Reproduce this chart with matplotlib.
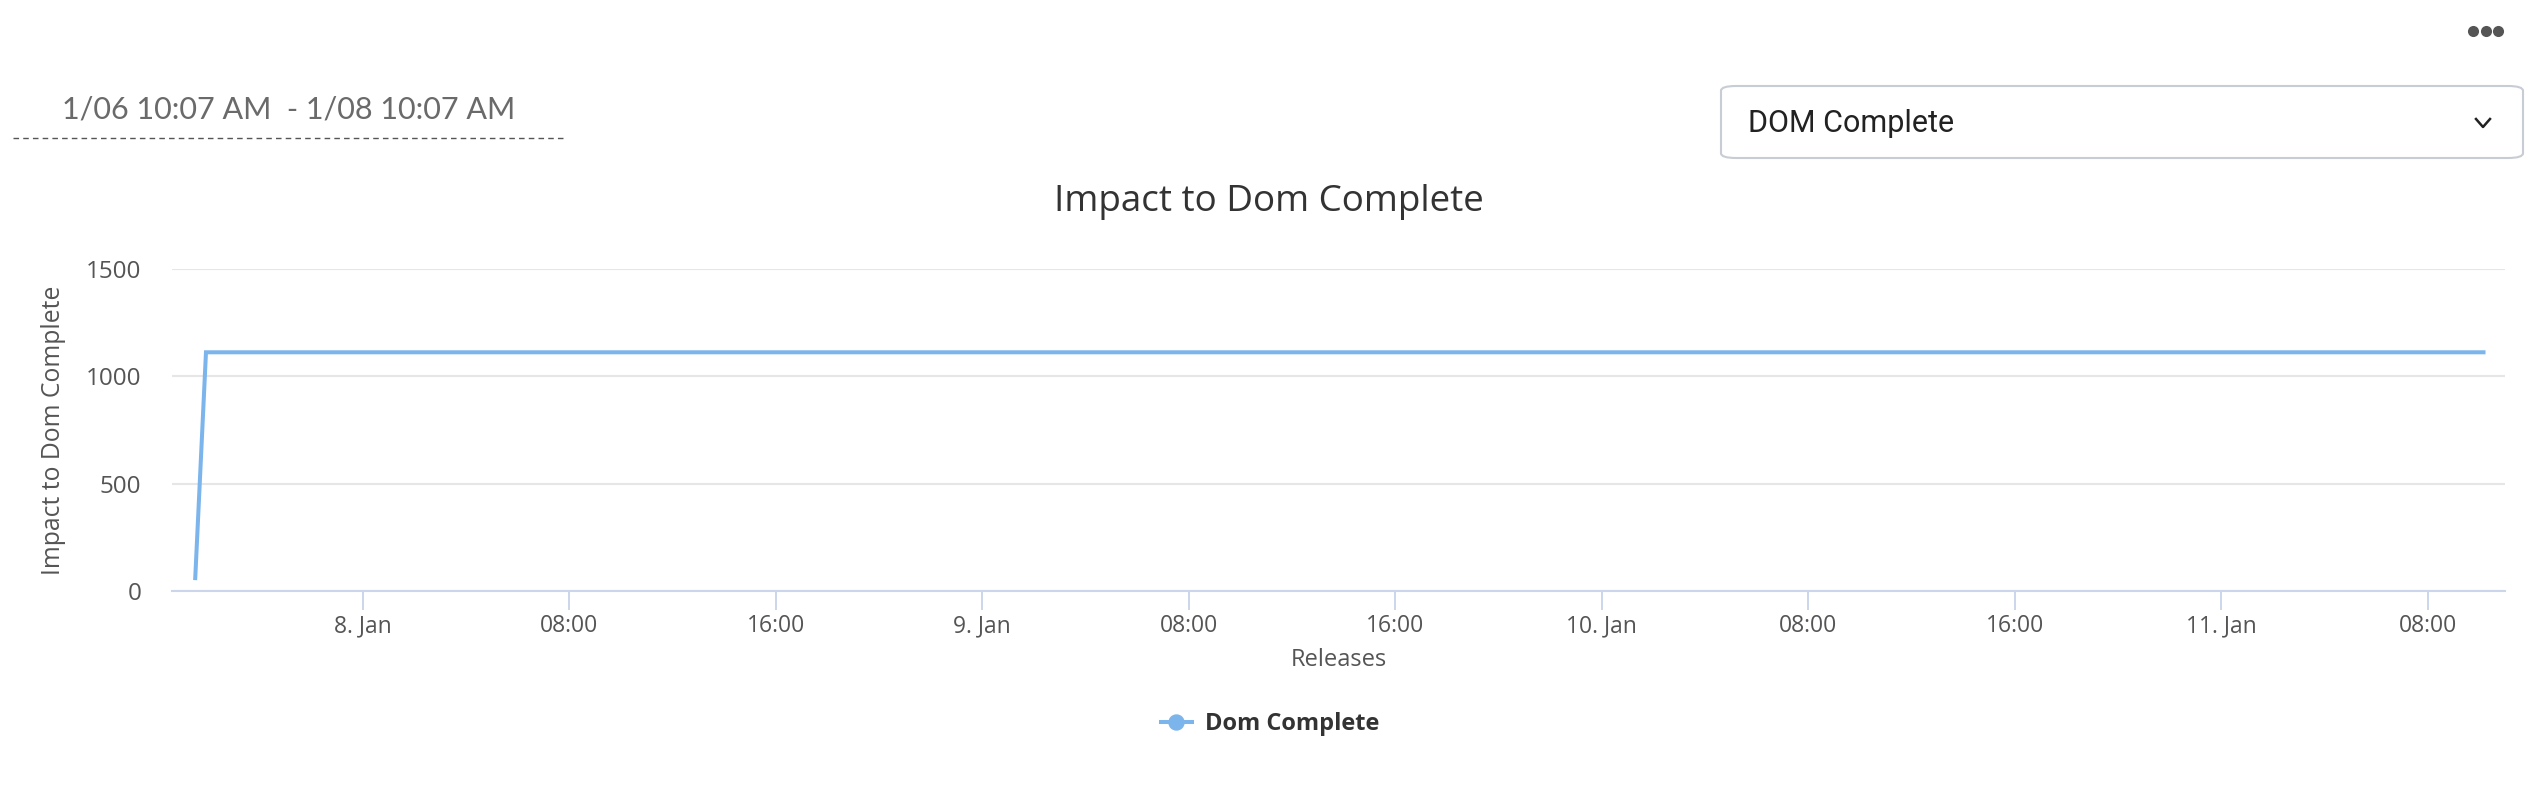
import numpy as np
import matplotlib
matplotlib.use("Agg")
import matplotlib.pyplot as plt
import matplotlib.dates as mdates
from matplotlib.lines import Line2D
from matplotlib.patches import FancyBboxPatch
from datetime import datetime

# data
times = [datetime(2024, 1, 7, 17, 30), datetime(2024, 1, 7, 17, 55),
         datetime(2024, 1, 11, 10, 10)]
values = [60, 1112, 1112]
y_ticks = [0, 500, 1000, 1500]
x_start = datetime(2024, 1, 7, 16, 36)
x_end = datetime(2024, 1, 11, 11, 0)
tick_times = [datetime(2024, 1, 8) + np.timedelta64(8 * i, 'h').item() for i in range(11)]

line_color = '#7cb5ec'
grid_color = '#e6e6e6'
axis_color = '#ccd6eb'
label_color = '#555555'

plt.rcParams['font.family'] = ['Open Sans', 'DejaVu Sans']

W, H = 2540, 788
fig = plt.figure(figsize=(W / 100, H / 100), dpi=100)
ax = fig.add_axes([172 / W, 1 - 591 / H, (2505 - 172) / W, (591 - 269) / H])

ax.plot(times, values, color=line_color, lw=2.9, solid_joinstyle='miter')

ax.set_ylim(0, 1500)
ax.set_yticks(y_ticks)
ax.set_xlim(x_start, x_end)
ax.set_xticks(tick_times)


def fmt(x, pos):
    d = mdates.num2date(x)
    if d.hour == 0:
        return f"{d.day}. {d.strftime('%b')}"
    return d.strftime('%H:%M')


ax.xaxis.set_major_formatter(plt.FuncFormatter(fmt))

ax.grid(axis='y', color=grid_color, lw=1.5)
ax.set_axisbelow(True)
for s in ['top', 'right', 'left']:
    ax.spines[s].set_visible(False)
ax.spines['bottom'].set_color(axis_color)
ax.spines['bottom'].set_linewidth(1.5)
ax.tick_params(axis='x', length=13.5, width=1.4, color=axis_color,
               labelsize=16.5, labelcolor=label_color, pad=3)
ax.tick_params(axis='y', length=0, labelsize=17.5, labelcolor=label_color, pad=22)

ax.set_ylabel('Impact to Dom Complete', fontsize=17.8, color=label_color)
ax.yaxis.set_label_coords(-0.051, 0.5)
ax.yaxis.label.set_va('center')
ax.set_xlabel('Releases', fontsize=17, color=label_color)
ax.xaxis.set_label_coords(0.5, -0.214)
ax.xaxis.label.set_va('center')

title = ax.set_title('Impact to Dom Complete', fontsize=26.5, color='#333333',
                     y=(591 - 210) / (591 - 269), va='center')
title.set_x((1269 - 172) / (2505 - 172))

handle = Line2D([], [], color=line_color, lw=2.9, marker='o', markersize=10.8)
leg = ax.legend([handle], ['Dom Complete'], loc='center',
                bbox_to_anchor=(1270 / W, 1 - 724 / H),
                bbox_transform=fig.transFigure, frameon=False,
                handlelength=1.3, handletextpad=0.55,
                prop={'size': 17, 'weight': 'bold'})
for t in leg.get_texts():
    t.set_color('#333333')

# page elements around the chart
fig.text(62 / W, 1 - 109 / H, '1/06 10:07 AM  - 1/08 10:07 AM',
         fontsize=22, color='#6a6a6a', family=['Lato', 'DejaVu Sans'],
         va='center', ha='left')
fig.add_artist(Line2D([13 / W, 564 / W], [1 - 138 / H, 1 - 138 / H],
                      color='#555555', lw=1, ls=(0, (4, 3))))

box = FancyBboxPatch((1721 / W, 1 - 158 / H), (2523 - 1721) / W, (158 - 86) / H,
                     boxstyle='round,pad=0,rounding_size=0.006',
                     transform=fig.transFigure, facecolor='white',
                     edgecolor='#c8ccd4', lw=1.5)
fig.add_artist(box)
fig.text(1748 / W, 1 - 123 / H, 'DOM Complete', fontsize=22, color='#222222',
         family=['Roboto', 'DejaVu Sans'], va='center', ha='left')
fig.add_artist(Line2D([2476 / W, 2483 / W, 2490 / W],
                      [1 - 119 / H, 1 - 127 / H, 1 - 119 / H],
                      color='#222222', lw=1.8))

fig.add_artist(Line2D([2473 / W, 2486 / W, 2498 / W], [1 - 31 / H] * 3,
                      ls='none', marker='o', markersize=8,
                      color='#555555', markeredgewidth=0))

fig.savefig('out.png', dpi=100)
